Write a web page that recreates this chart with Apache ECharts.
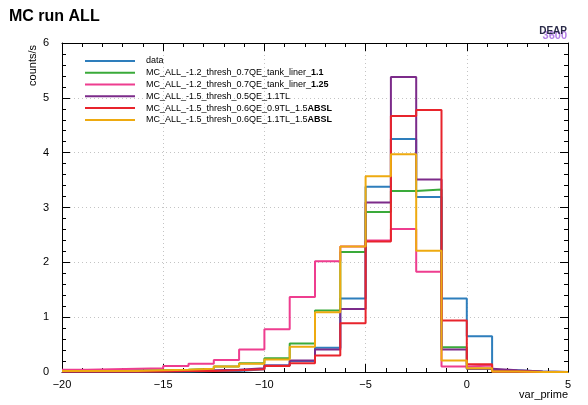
<!DOCTYPE html>
<html>
<head>
<meta charset="utf-8">
<script src="https://cdn.jsdelivr.net/npm/echarts@6/dist/echarts.min.js"></script>
<style>
html,body{margin:0;padding:0;background:#fff;}
#chart{width:588px;height:405px;}
</style>
</head>
<body>
<div id="chart"></div>
<script>
// Bin left edges (bin width 1.25), plus the final right edge
var binEdges = [-20,-18.75,-17.5,-16.25,-15,-13.75,-12.5,-11.25,-10,-8.75,-7.5,-6.25,-5,-3.75,-2.5,-1.25,0,1.25,2.5,3.75,5];

var dataVals    = [0.01,0.01,0.01,0.01,0.01,0.02,0.02,0.05,0.12,0.20,0.44,1.34,3.38,4.25,3.19,1.34,0.65,0.03,0.01,0.00];
var liner11Vals = [0.02,0.02,0.03,0.03,0.04,0.06,0.10,0.16,0.25,0.52,1.12,2.19,2.92,3.30,3.33,0.45,0.06,0.01,0.00,0.00];
var liner125Vals= [0.04,0.05,0.06,0.07,0.11,0.15,0.22,0.41,0.78,1.37,2.02,2.29,2.40,2.61,1.83,0.10,0.12,0.01,0.00,0.00];
var tl11Vals    = [0.01,0.01,0.01,0.02,0.02,0.03,0.04,0.07,0.12,0.21,0.41,1.15,3.09,5.38,3.51,0.41,0.06,0.03,0.01,0.00];
var absl09Vals  = [0.01,0.01,0.01,0.01,0.02,0.02,0.03,0.05,0.11,0.16,0.30,0.89,2.38,4.67,4.78,0.94,0.14,0.01,0.00,0.00];
var absl11Vals  = [0.02,0.02,0.02,0.03,0.04,0.06,0.10,0.15,0.23,0.46,1.09,2.29,3.57,3.97,2.21,0.21,0.07,0.01,0.00,0.00];

var seriesNames = [
  'data',
  'MC_ALL_-1.2_thresh_0.7QE_tank_liner_1.1',
  'MC_ALL_-1.2_thresh_0.7QE_tank_liner_1.25',
  'MC_ALL_-1.5_thresh_0.5QE_1.1TL',
  'MC_ALL_-1.5_thresh_0.6QE_0.9TL_1.5ABSL',
  'MC_ALL_-1.5_thresh_0.6QE_1.1TL_1.5ABSL'
];
// [plain part, bold part] of each legend label
var legendParts = [
  ['data',''],
  ['MC_ALL_-1.2_thresh_0.7QE_tank_liner_','1.1'],
  ['MC_ALL_-1.2_thresh_0.7QE_tank_liner_','1.25'],
  ['MC_ALL_-1.5_thresh_0.5QE_1.1TL',''],
  ['MC_ALL_-1.5_thresh_0.6QE_0.9TL_1.5','ABSL'],
  ['MC_ALL_-1.5_thresh_0.6QE_1.1TL_1.5','ABSL']
];
var seriesColors = ['#2e7ebc','#3aaa3a','#ee3d8f','#7c2b8a','#e8242c','#eeaa10'];
var allVals = [dataVals, liner11Vals, liner125Vals, tl11Vals, absl09Vals, absl11Vals];

var xTicks = {min:-20, max:5, interval:5};
var yTicks = {min:0, max:6, interval:1};

function stepData(vals){
  var pts = [];
  for (var i = 0; i < vals.length; i++) pts.push([binEdges[i], vals[i]]);
  pts.push([binEdges[vals.length], vals[vals.length-1]]);
  return pts;
}

var FONT = '"Liberation Sans", Arial, Helvetica, sans-serif';

var series = allVals.map(function(v, i){
  return {
    name: seriesNames[i],
    type: 'line',
    step: 'end',
    data: stepData(v),
    showSymbol: false,
    symbol: 'none',
    color: seriesColors[i],
    lineStyle: {width: 2, color: seriesColors[i]},
    xAxisIndex: 1,
    yAxisIndex: 1,
    animation: false
  };
});

// Axes on grid 0: only the dotted grid lines
function gridX(){
  return {
    gridIndex: 0, type: 'value', position: 'bottom',
    min: xTicks.min, max: xTicks.max, interval: xTicks.interval,
    axisLine: {show: false}, axisTick: {show: false}, axisLabel: {show: false},
    splitLine: {show: true, lineStyle: {color: '#c4c4c4', width: 1, type: [1, 3]}}
  };
}
function gridY(){
  return {
    gridIndex: 0, type: 'value', position: 'left',
    min: yTicks.min, max: yTicks.max, interval: yTicks.interval,
    axisLine: {show: false}, axisTick: {show: false}, axisLabel: {show: false},
    splitLine: {show: true, lineStyle: {color: '#c4c4c4', width: 1, type: [1, 3]}}
  };
}
// Axes on grid 1: frame, ticks and labels
function mkX(pos, labels){
  return {
    gridIndex: 1, type: 'value', position: pos,
    min: xTicks.min, max: xTicks.max, interval: xTicks.interval,
    axisLine: {show: true, onZero: false, lineStyle: {color: '#000', width: 1}},
    axisTick: {show: true, inside: true, length: 8, lineStyle: {color: '#000', width: 1}},
    minorTick: {show: true, splitNumber: 5, length: 4, lineStyle: {color: '#000', width: 1}},
    splitLine: {show: false},
    axisLabel: {show: labels, margin: 7, color: '#000', fontFamily: FONT, fontSize: 11,
      formatter: function(v){ return String(v).replace('-', '\u2212'); }}
  };
}
function mkY(pos, labels){
  return {
    gridIndex: 1, type: 'value', position: pos,
    min: yTicks.min, max: yTicks.max, interval: yTicks.interval,
    axisLine: {show: true, onZero: false, lineStyle: {color: '#000', width: 1}},
    axisTick: {show: true, inside: true, length: 8, lineStyle: {color: '#000', width: 1}},
    minorTick: {show: true, splitNumber: 5, length: 4, lineStyle: {color: '#000', width: 1}},
    splitLine: {show: false},
    axisLabel: {show: labels, margin: 13, color: '#000', fontFamily: FONT, fontSize: 11}
  };
}

var chart = echarts.init(document.getElementById('chart'), null, {renderer: 'canvas'});
chart.setOption({
  animation: false,
  backgroundColor: '#fff',
  grid: [
    {left: 62, right: 20, top: 43, bottom: 33, containLabel: false},
    {left: 62, right: 20, top: 43, bottom: 33, containLabel: false}
  ],
  xAxis: [gridX(), mkX('bottom', true), mkX('top', false)],
  yAxis: [gridY(), mkY('left', true), mkY('right', false)],
  legend: {
    orient: 'vertical', left: 85, top: 55, padding: 0,
    icon: 'rect', itemWidth: 50, itemHeight: 2, itemGap: 0,
    data: seriesNames,
    formatter: function(name){
      var p = legendParts[seriesNames.indexOf(name)];
      return '{a|' + p[0] + '}' + (p[1] ? '{b|' + p[1] + '}' : '');
    },
    textStyle: {
      padding: [0, 0, 0, 6],
      fontFamily: FONT, fontSize: 9, color: '#000', lineHeight: 11.8,
      rich: {
        a: {fontFamily: FONT, fontSize: 9, color: '#000', lineHeight: 11.8},
        b: {fontFamily: FONT, fontSize: 9, fontWeight: 'bold', color: '#000', lineHeight: 11.8}
      }
    }
  },
  graphic: [
    {type: 'text', left: 9, top: 9, style: {text: 'MC run ALL', fontFamily: FONT, fontSize: 16, fontWeight: 'bold', fill: '#000'}},
    {type: 'text', right: 21, top: 30, style: {text: '3600', fontFamily: FONT, fontSize: 11, fontWeight: 'bold', fill: '#b27ee6'}},
    {type: 'text', right: 21, top: 26, style: {text: 'DEAP', fontFamily: FONT, fontSize: 10, fontWeight: 'bold', fill: '#2a2a48'}},
    {type: 'text', left: 27, top: 45, rotation: Math.PI / 2,
      style: {text: 'counts/s', fontFamily: FONT, fontSize: 11, fill: '#000'}},
    {type: 'text', right: 20, top: 389, style: {text: 'var_prime', fontFamily: FONT, fontSize: 11, fill: '#000'}}
  ],
  series: series
});
</script>
</body>
</html>
